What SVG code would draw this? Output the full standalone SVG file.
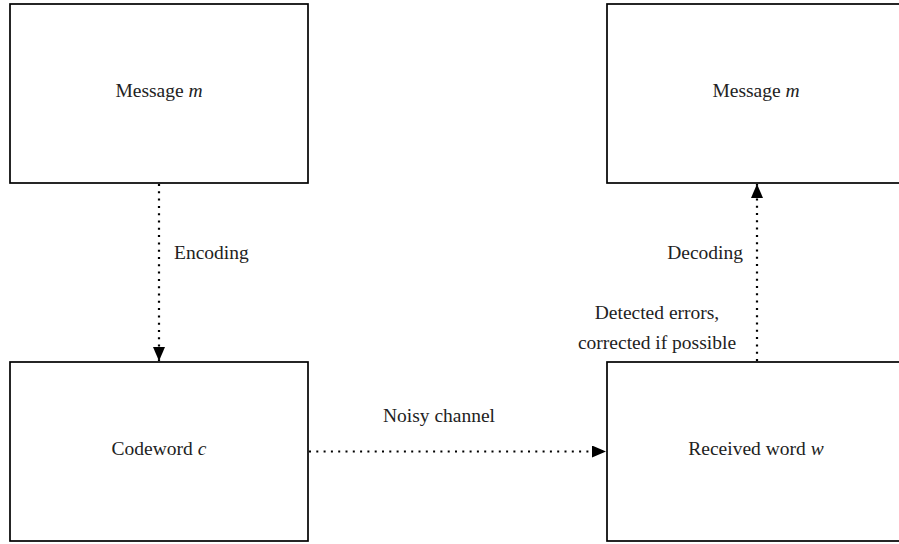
<svg xmlns="http://www.w3.org/2000/svg" width="899" height="544" viewBox="0 0 899 544">
<style>
.box{fill:#fff;stroke:#000;stroke-width:1.7}
.t{font-family:"Liberation Serif","Times New Roman",serif;font-size:19.5px;fill:#222}
.c{text-anchor:middle}
.e{text-anchor:end}
.con{stroke:#000;stroke-width:2.2;stroke-dasharray:2 5.3;fill:none}
</style>
<defs>
<marker id="ah" markerUnits="userSpaceOnUse" markerWidth="15" markerHeight="13" refX="14" refY="6" orient="auto">
<path d="M0,0 L14,6 L0,12 Z" fill="#000"/>
</marker>
</defs>
<rect width="899" height="544" fill="#fff"/>
<g id="msg1"><rect class="box" x="10" y="4" width="298" height="179"/><text class="t c" x="159" y="97">Message <tspan font-style="italic">m</tspan></text></g>
<g id="msg2"><rect class="box" x="607" y="4" width="298" height="179"/><text class="t c" x="756" y="97">Message <tspan font-style="italic">m</tspan></text></g>
<g id="codeword"><rect class="box" x="10" y="362" width="298" height="179"/><text class="t c" x="159" y="455">Codeword <tspan font-style="italic">c</tspan></text></g>
<g id="received"><rect class="box" x="607" y="362" width="298" height="179"/><text class="t c" x="756" y="455">Received word <tspan font-style="italic">w</tspan></text></g>
<g id="connectors">
<line class="con" x1="159" y1="184" x2="159" y2="361" marker-end="url(#ah)"/>
<line class="con" x1="309" y1="451.5" x2="606" y2="451.5" marker-end="url(#ah)"/>
<line class="con" x1="757" y1="361" x2="757" y2="184" marker-end="url(#ah)"/>
</g>
<g id="labels">
<text class="t" x="174" y="258.5">Encoding</text>
<text class="t e" x="743" y="258.5">Decoding</text>
<text class="t c" x="657" y="318.5">Detected errors,</text>
<text class="t c" x="657" y="348.5">corrected if possible</text>
<text class="t c" x="439" y="421.5">Noisy channel</text>
</g>
</svg>
